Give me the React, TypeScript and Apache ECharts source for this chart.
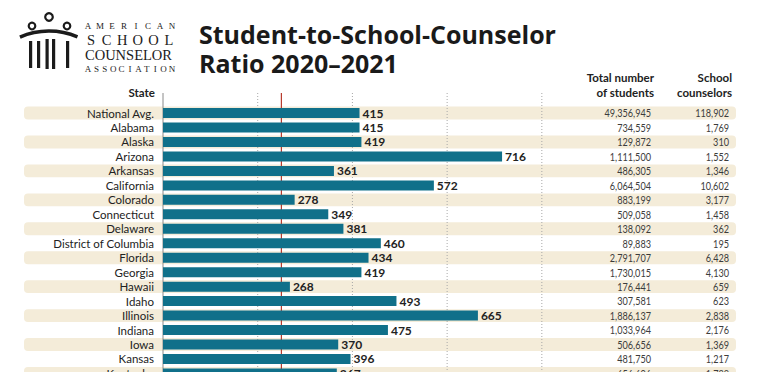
import React, { useEffect, useRef } from "react";
import * as echarts from "echarts";

const states = [
  "National Avg.", "Alabama", "Alaska", "Arizona", "Arkansas", "California", "Colorado",
  "Connecticut", "Delaware", "District of Columbia", "Florida", "Georgia", "Hawaii", "Idaho",
  "Illinois", "Indiana", "Iowa", "Kansas", "Kentucky",
];
const ratios = [415, 415, 419, 716, 361, 572, 278, 349, 381, 460, 434, 419, 268, 493, 665, 475, 370, 396, 367];
const students = [
  "49,356,945", "734,559", "129,872", "1,111,500", "486,305", "6,064,504", "883,199",
  "509,058", "138,092", "89,883", "2,791,707", "1,730,015", "176,441", "307,581",
  "1,886,137", "1,033,964", "506,656", "481,750", "656,606",
];
const counselors = [
  "118,902", "1,769", "310", "1,552", "1,346", "10,602", "3,177", "1,458", "362", "195",
  "6,428", "4,130", "659", "623", "2,838", "2,176", "1,369", "1,217", "1,789",
];
const gridTicks = [200, 400, 600, 800];
const recommended = 250;

const FONT = "Lato, 'Noto Sans', sans-serif";
const TITLE_FONT = "'Open Sans', 'Noto Sans', sans-serif";
const SERIF = "'Liberation Serif', 'DejaVu Serif', serif";

function spreadLetters(text: string, x0: number, x1: number, y: number, size: number) {
  const n = text.length;
  return text.split("").map((ch, i) => ({
    type: "text",
    x: x0 + (n === 1 ? 0 : (i * (x1 - x0)) / (n - 1)),
    y,
    style: { text: ch, fill: "#1b1b1b", font: `${size}px ${SERIF}`, align: "center", verticalAlign: "middle" },
  }));
}

export default function App() {
  const ref = useRef<HTMLDivElement>(null);
  useEffect(() => {
    const chart = echarts.init(ref.current!, null, { renderer: "svg" });
    chart.setOption({
      animation: false,
      grid: { left: 163, top: 105.8, width: 573, height: 274.9 },
      xAxis: { type: "value", min: 0, max: 1210, show: false, splitLine: { show: false } },
      yAxis: {
        type: "category",
        data: states,
        inverse: true,
        axisLine: { show: false },
        axisTick: { show: false },
        axisLabel: { interval: 0, margin: 9, fontFamily: FONT, fontSize: 11.5, color: "#222" },
      },
      series: [
        {
          type: "bar",
          data: ratios,
          barWidth: 10,
          z: 5,
          silent: true,
          itemStyle: { color: "#10708a" },
          label: {
            show: true,
            position: "right",
            distance: 3,
            fontFamily: FONT,
            fontWeight: "bold",
            fontSize: 12,
            color: "#222",
          },
        },
      ],
    });

    const xp = (v: number) => chart.convertToPixel({ xAxisIndex: 0 }, v) as number;
    const yp = (i: number) => chart.convertToPixel({ yAxisIndex: 0 }, i) as number;
    const band = yp(1) - yp(0);
    const els: any[] = [];

    states.forEach((_, i) => {
      if (i % 2 === 0) {
        els.push({
          type: "rect",
          z: 0,
          shape: { x: 24, y: yp(i) - band / 2 + 0.8, width: 712, height: band - 1.6, r: 4 },
          style: { fill: "#f4ecd9" },
        });
      }
      els.push({
        type: "text",
        z: 3,
        x: 651,
        y: yp(i),
        scaleX: 0.83,
        style: { text: students[i], fill: "#3c3c3c", font: `11px ${FONT}`, align: "right", verticalAlign: "middle" },
      });
      els.push({
        type: "text",
        z: 3,
        x: 729,
        y: yp(i),
        scaleX: 0.83,
        style: { text: counselors[i], fill: "#3c3c3c", font: `11px ${FONT}`, align: "right", verticalAlign: "middle" },
      });
    });

    const lineTop = 93;
    const lineBottom = 400;
    gridTicks.forEach((t) => {
      els.push({
        type: "line",
        z: 1,
        shape: { x1: xp(t), y1: lineTop, x2: xp(t), y2: lineBottom },
        style: { stroke: "#a8a8a8", lineWidth: 1, lineDash: [1, 2] },
      });
    });
    els.push({
      type: "line",
      z: 1,
      shape: { x1: xp(recommended), y1: lineTop, x2: xp(recommended), y2: lineBottom },
      style: { stroke: "#b83a2c", lineWidth: 1.2 },
    });
    els.push({
      type: "line",
      z: 1,
      shape: { x1: xp(0), y1: lineTop, x2: xp(0), y2: lineBottom },
      style: { stroke: "#8a8a8a", lineWidth: 1 },
    });

    // headers
    const hdr = (text: string, x: number, y: number) => ({
      type: "text",
      z: 3,
      x,
      y,
      style: { text, fill: "#222", font: `bold 11.5px ${FONT}`, align: "right", verticalAlign: "middle" },
    });
    els.push(hdr("State", 155, 92));
    els.push(hdr("Total number", 654, 77));
    els.push(hdr("of students", 654, 92));
    els.push(hdr("School", 732, 77));
    els.push(hdr("counselors", 732, 92));

    // title (single text, two lines)
    els.push({
      type: "text",
      z: 3,
      x: 199,
      y: 19.5,
      style: {
        text: "Student-to-School-Counselor\nRatio 2020–2021",
        fill: "#1a1a1a",
        font: `bold 25px ${TITLE_FONT}`,
        lineHeight: 29,
        verticalAlign: "top",
      },
    });

    // logo
    [[32, 26, 3.3], [49, 17, 3.8], [67, 26, 3.3]].forEach(([cx, cy, r]) => {
      els.push({
        type: "circle",
        z: 3,
        shape: { cx, cy, r },
        style: { fill: "#fff", stroke: "#1b1b1b", lineWidth: 2.2 },
      });
    });
    els.push({
      type: "arc",
      z: 3,
      shape: { cx: 49, cy: 104, r: 73, startAngle: -1.98, endAngle: -1.17, clockwise: true },
      style: { stroke: "#1b1b1b", lineWidth: 3.5, fill: "none" },
    });
    [29, 37, 45.5, 52, 66].forEach((px, k) => {
      els.push({
        type: "rect",
        z: 3,
        shape: { x: px, y: k === 2 || k === 3 ? 39 : 41, width: 3.2, height: k === 2 || k === 3 ? 30 : 27 },
        style: { fill: "#1b1b1b" },
      });
    });
    spreadLetters("AMERICAN", 88, 172, 26, 9).forEach((e) => els.push(e));
    spreadLetters("SCHOOL", 91, 169, 39.5, 14.5).forEach((e) => els.push(e));
    els.push({
      type: "text",
      z: 3,
      x: 85,
      y: 55,
      style: { text: "COUNSELOR", fill: "#1b1b1b", font: `14.5px ${SERIF}`, verticalAlign: "middle" },
    });
    spreadLetters("ASSOCIATION", 88, 172, 68.5, 9).forEach((e) => els.push(e));

    chart.setOption({ graphic: { elements: els } });
    return () => chart.dispose();
  }, []);
  return (
    <div style={{ position: "absolute", left: 0, top: 0, width: 768, height: 372, overflow: "hidden" }}>
      <div ref={ref} style={{ width: 768, height: 392 }} />
    </div>
  );
}
